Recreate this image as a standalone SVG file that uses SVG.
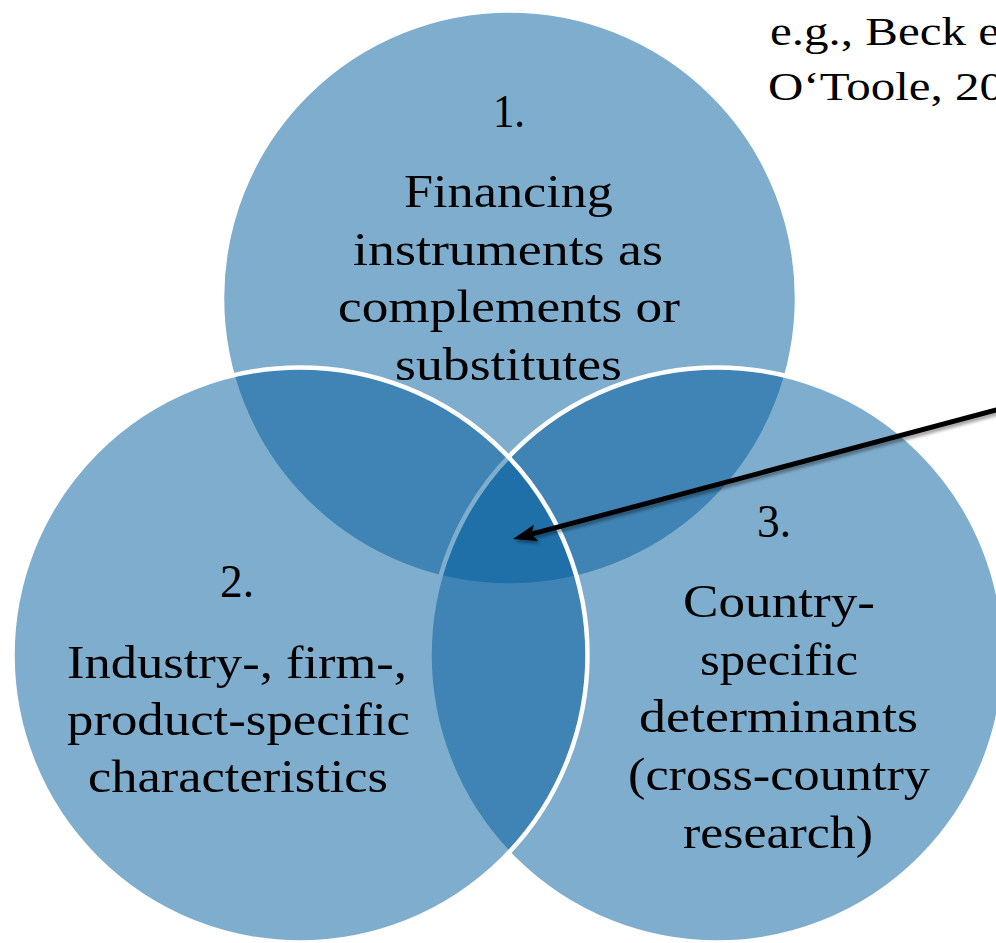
<svg xmlns="http://www.w3.org/2000/svg" width="996" height="943" viewBox="0 0 996 943">
  <defs>
    <style>
      .circle { fill: rgb(0,92,156); fill-opacity: 0.5; stroke: #ffffff; stroke-width: 4.5; }
      .lbl { font-family: "Liberation Serif", "Times New Roman", serif; font-size: 47px; fill: #000000; }
      .note { font-family: "Liberation Serif", "Times New Roman", serif; font-size: 41px; fill: #000000; }
      .conn { stroke: #000000; stroke-width: 5; fill: none; }
    </style>
    <marker id="arrow" viewBox="0 0 24 17" refX="5" refY="8.5" markerWidth="24" markerHeight="17" markerUnits="userSpaceOnUse" orient="auto">
      <path d="M0,0 L24,8.5 L0,17 L5,8.5 Z" fill="#000000"/>
    </marker>
    <filter id="shadow" x="-10%" y="-30%" width="120%" height="160%">
      <feDropShadow dx="2" dy="3" stdDeviation="1.5" flood-color="#000000" flood-opacity="0.35"/>
    </filter>
  </defs>

  <rect x="0" y="0" width="996" height="943" fill="#ffffff"/>

  <g id="node-1">
    <circle class="circle" cx="509.5" cy="298" r="287.5"/>
    <text class="lbl" x="493" y="127" textLength="32" lengthAdjust="spacingAndGlyphs">1.</text>
    <text class="lbl" x="404" y="207" textLength="209" lengthAdjust="spacingAndGlyphs">Financing</text>
    <text class="lbl" x="353" y="265" textLength="310" lengthAdjust="spacingAndGlyphs">instruments as</text>
    <text class="lbl" x="338" y="322" textLength="342" lengthAdjust="spacingAndGlyphs">complements or</text>
    <text class="lbl" x="395" y="380" textLength="227" lengthAdjust="spacingAndGlyphs">substitutes</text>
  </g>

  <g id="node-3">
    <circle class="circle" cx="717" cy="655" r="287.5"/>
    <text class="lbl" x="757" y="537" textLength="34" lengthAdjust="spacingAndGlyphs">3.</text>
    <text class="lbl" x="683" y="617" textLength="192" lengthAdjust="spacingAndGlyphs">Country-</text>
    <text class="lbl" x="700" y="675" textLength="158" lengthAdjust="spacingAndGlyphs">specific</text>
    <text class="lbl" x="639" y="732" textLength="279" lengthAdjust="spacingAndGlyphs">determinants</text>
    <text class="lbl" x="628" y="790" textLength="302" lengthAdjust="spacingAndGlyphs">(cross-country</text>
    <text class="lbl" x="683" y="848" textLength="190" lengthAdjust="spacingAndGlyphs">research)</text>
  </g>

  <g id="node-2">
    <circle class="circle" cx="300" cy="655" r="287.5"/>
    <text class="lbl" x="220" y="597" textLength="34" lengthAdjust="spacingAndGlyphs">2.</text>
    <text class="lbl" x="67" y="678" textLength="340" lengthAdjust="spacingAndGlyphs">Industry-, firm-,</text>
    <text class="lbl" x="67" y="735" textLength="343" lengthAdjust="spacingAndGlyphs">product-specific</text>
    <text class="lbl" x="88" y="792" textLength="300" lengthAdjust="spacingAndGlyphs">characteristics</text>
  </g>

  <g id="note">
    <text class="note" x="770" y="45" textLength="230" lengthAdjust="spacingAndGlyphs">e.g., Beck e</text>
    <text class="note" x="768" y="100" textLength="236" lengthAdjust="spacingAndGlyphs">O‘Toole, 20</text>
  </g>

  <g id="connectors" filter="url(#shadow)">
    <line class="conn" x1="1000" y1="409" x2="531.3" y2="534.2" marker-end="url(#arrow)"/>
  </g>
</svg>
